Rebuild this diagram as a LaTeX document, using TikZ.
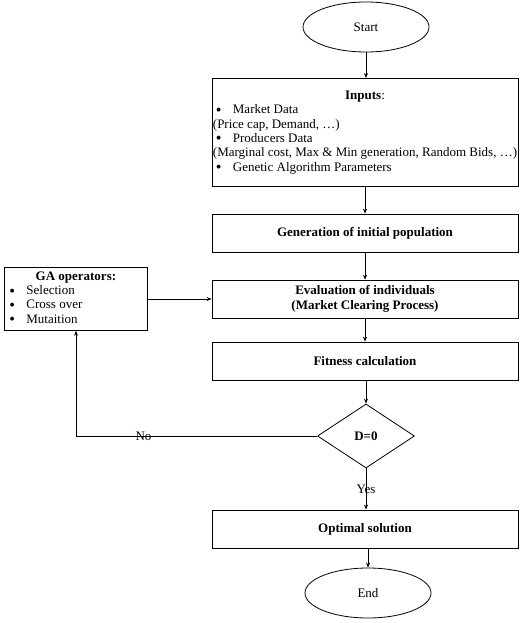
\documentclass[tikz,border=0pt]{standalone}
\usepackage{fontspec}
\setmainfont{Liberation Serif}
\usetikzlibrary{shapes.geometric,arrows.meta}
\begin{document}
\begin{tikzpicture}[x=1pt,y=-1pt,
  every node/.style={font=\fontsize{13}{14.3}\selectfont},
  box/.style={draw,line width=0.8pt,minimum width=306pt,minimum height=38pt,inner sep=2pt,font=\fontsize{13}{14.3}\selectfont\bfseries,align=center},
  term/.style={draw,line width=0.8pt,ellipse,minimum width=126pt,minimum height=50pt,inner sep=0pt},
  arr/.style={-{Stealth[length=5pt,width=4pt]},line width=0.8pt},
  ln/.style={line width=0.8pt}]
\useasboundingbox (0,0) rectangle (522,623);
\newcommand{\bul}{\makebox[20pt][l]{\hspace{3pt}\raisebox{-0.25ex}{\scalebox{1.25}{\textbullet}}}}
\node[term] (start) at (366,27) {Start};
\node[draw,line width=0.8pt,minimum width=306pt,minimum height=108pt,inner sep=1pt,anchor=north] (inputs) at (365,78) {%
  \begin{tabular}{@{}l@{}}
  \multicolumn{1}{@{}c@{}}{\textbf{Inputs}:}\\
  \bul Market Data\\
  (Price cap, Demand, \dots)\\
  \bul Producers Data\\
  (Marginal cost, Max \& Min generation, Random Bids, \dots)\\
  \bul Genetic Algorithm Parameters
  \end{tabular}};
\node[box] (gen) at (365,233) {Generation of initial population};
\node[box] (eval) at (365,299) {Evaluation of individuals\\(Market Clearing Process)};
\node[box] (fit) at (365,361) {Fitness calculation};
\node[draw,line width=0.8pt,diamond,minimum width=97pt,minimum height=64pt,inner sep=0pt,font=\fontsize{13}{14.3}\selectfont\bfseries] (dec) at (366,436) {D=0};
\node[box] (opt) at (365,529) {Optimal solution};
\node[term] (end) at (368,593) {End};
\node[draw,line width=0.8pt,minimum width=143pt,minimum height=63pt,inner sep=1pt,anchor=north west] (ga) at (4,267) {%
  \begin{tabular}{@{}p{139pt}@{}}
  \multicolumn{1}{@{}c@{}}{\textbf{GA operators:}}\\
  \bul Selection\\
  \bul Cross over\\
  \bul Mutaition
  \end{tabular}};
\draw[arr] (start) -- (start|-inputs.north);
\draw[arr] (inputs.south-|gen) -- (gen);
\draw[arr] (gen) -- (eval);
\draw[arr] (eval) -- (fit);
\draw[arr] (fit.south-|dec) -- (dec);
\draw[arr] (dec) -- (dec|-opt.north) node[pos=0.5,inner sep=0pt] {Yes};
\draw[arr] (opt.south-|end) -- (end);
\draw[arr] (ga.east|-eval) -- (eval.west);
\coordinate (corner) at (76,436);
\draw[ln] (dec.west) -- (corner) node[pos=0.72,inner sep=0pt] {No};
\draw[arr] (corner) -- (corner|-ga.south);
\end{tikzpicture}
\end{document}
